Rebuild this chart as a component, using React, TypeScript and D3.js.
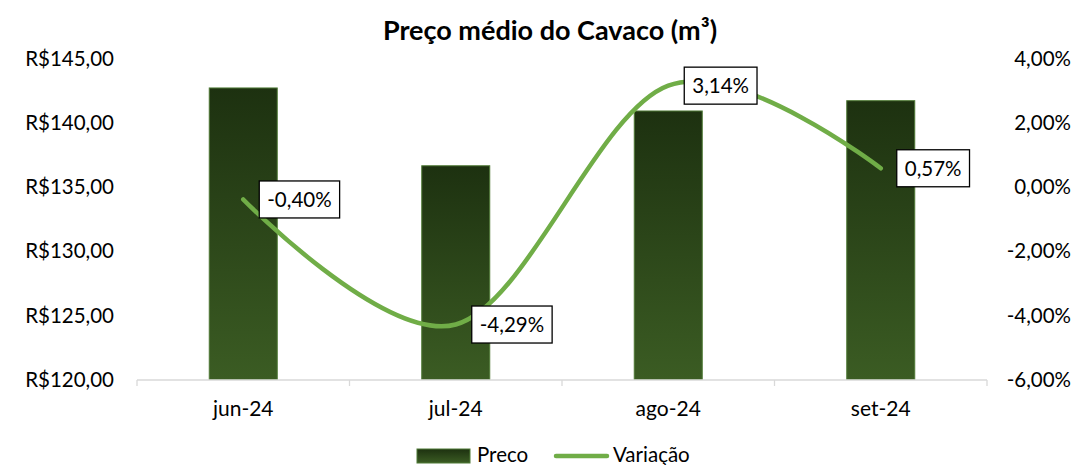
import React, { useEffect, useRef } from "react";
import * as d3 from "d3";

const categories = ["jun-24", "jul-24", "ago-24", "set-24"];
const precoValues = [142.67, 136.62, 140.88, 141.68];
const variacaoValues = [-0.40, -4.29, 3.14, 0.57];
const variacaoLabels = ["-0,40%", "-4,29%", "3,14%", "0,57%"];
const leftTicks = [120, 125, 130, 135, 140, 145];
const rightTicks = [-6, -4, -2, 0, 2, 4];
const title = "Preço médio do Cavaco (m³)";
const legendItems = ["Preco", "Variação"];

const FONT = "Lato, 'Open Sans', sans-serif";

export default function App() {
  const ref = useRef<SVGSVGElement | null>(null);

  useEffect(() => {
    const svg = d3.select(ref.current);
    svg.selectAll("*").remove();
    const W = 1082, H = 465;
    const left = 137, right = 987, top = 58, bottom = 379.5;

    const yL = d3.scaleLinear().domain([120, 145]).range([bottom, top]);
    const yR = d3.scaleLinear().domain([-6, 4]).range([bottom, top]);
    const band = d3.scaleBand().domain(categories).range([left, right]);

    const defs = svg.append("defs");
    const grad = defs.append("linearGradient").attr("id", "barGrad").attr("x1", 0).attr("y1", 0).attr("x2", 0).attr("y2", 1);
    grad.append("stop").attr("offset", "0%").attr("stop-color", "#1d3110");
    grad.append("stop").attr("offset", "100%").attr("stop-color", "#3b5c23");

    svg.append("rect").attr("width", W).attr("height", H).attr("fill", "#fff");

    // title
    svg.append("text").attr("x", 550).attr("y", 40).attr("text-anchor", "middle")
      .attr("font-family", FONT).attr("font-weight", 700).attr("font-size", 27).attr("fill", "#000").text(title);

    // bars
    const bw = 68;
    svg.append("g").selectAll("rect").data(precoValues).join("rect")
      .attr("x", (_, i) => band(categories[i])! + band.bandwidth() / 2 - bw / 2)
      .attr("y", d => yL(d))
      .attr("width", bw)
      .attr("height", d => bottom - yL(d))
      .attr("fill", "url(#barGrad)")
      .attr("stroke", "#4f7a36").attr("stroke-width", 1);

    // axis line
    svg.append("line").attr("x1", left).attr("x2", right).attr("y1", 380).attr("y2", 380)
      .attr("stroke", "#d9d9d9").attr("stroke-width", 1.3);
    const tickXs = categories.map(c => band(c)!).concat([right]);
    svg.append("g").selectAll("line").data(tickXs).join("line")
      .attr("x1", d => d).attr("x2", d => d).attr("y1", 380).attr("y2", 386)
      .attr("stroke", "#d9d9d9").attr("stroke-width", 1.3);

    // category labels
    svg.append("g").selectAll("text").data(categories).join("text")
      .attr("x", d => band(d)! + band.bandwidth() / 2).attr("y", 416)
      .attr("text-anchor", "middle").attr("font-family", FONT).attr("font-size", 21).attr("fill", "#000")
      .text(d => d);

    // left ticks
    svg.append("g").selectAll("text").data(leftTicks).join("text")
      .attr("x", 114).attr("y", d => yL(d) + 7.5)
      .attr("text-anchor", "end").attr("font-family", FONT).attr("font-size", 20.5).attr("fill", "#000")
      .text(d => "R$" + d3.format(".2f")(d).replace(".", ","));

    // right ticks
    svg.append("g").selectAll("text").data(rightTicks).join("text")
      .attr("x", 1071).attr("y", d => yR(d) + 7.5)
      .attr("text-anchor", "end").attr("font-family", FONT).attr("font-size", 20.5).attr("fill", "#000")
      .text(d => d3.format(".2f")(d).replace(".", ",").replace("−", "-") + "%");

    // line
    const pts: [number, number][] = variacaoValues.map((v, i) => [band(categories[i])! + band.bandwidth() / 2, yR(v)]);
    const line = d3.line().curve(d3.curveCardinal.tension(0));
    svg.append("path").attr("d", line(pts)!).attr("fill", "none").attr("stroke", "#70ad47")
      .attr("stroke-width", 4.5).attr("stroke-linecap", "round");

    // data labels
    const lg = svg.append("g");
    pts.forEach((p, i) => {
      const g = lg.append("g");
      const rect = g.append("rect");
      const t = g.append("text").attr("x", p[0] + 24).attr("y", p[1] + 7.5)
        .attr("font-family", FONT).attr("font-size", 20.5).attr("fill", "#000").text(variacaoLabels[i]);
      const w = (t.node() as SVGTextElement).getComputedTextLength();
      rect.attr("x", p[0] + 16).attr("y", p[1] - 18.5).attr("width", w + 16).attr("height", 37)
        .attr("fill", "#fff").attr("stroke", "#000").attr("stroke-width", 1.3);
    });

    // legend
    svg.append("rect").attr("x", 417).attr("y", 449).attr("width", 53).attr("height", 14)
      .attr("fill", "url(#barGrad)").attr("stroke", "#4f7a36").attr("stroke-width", 1);
    svg.append("text").attr("x", 477).attr("y", 462).attr("font-family", FONT).attr("font-size", 20.5).text(legendItems[0]);
    svg.append("line").attr("x1", 556).attr("x2", 607).attr("y1", 456).attr("y2", 456)
      .attr("stroke", "#70ad47").attr("stroke-width", 4.5).attr("stroke-linecap", "round");
    svg.append("text").attr("x", 613).attr("y", 462).attr("font-family", FONT).attr("font-size", 20.5).text(legendItems[1]);
  }, []);

  return <svg ref={ref} width={1082} height={465} style={{ display: "block", position: "absolute", left: 0, top: 0 }} />;
}
